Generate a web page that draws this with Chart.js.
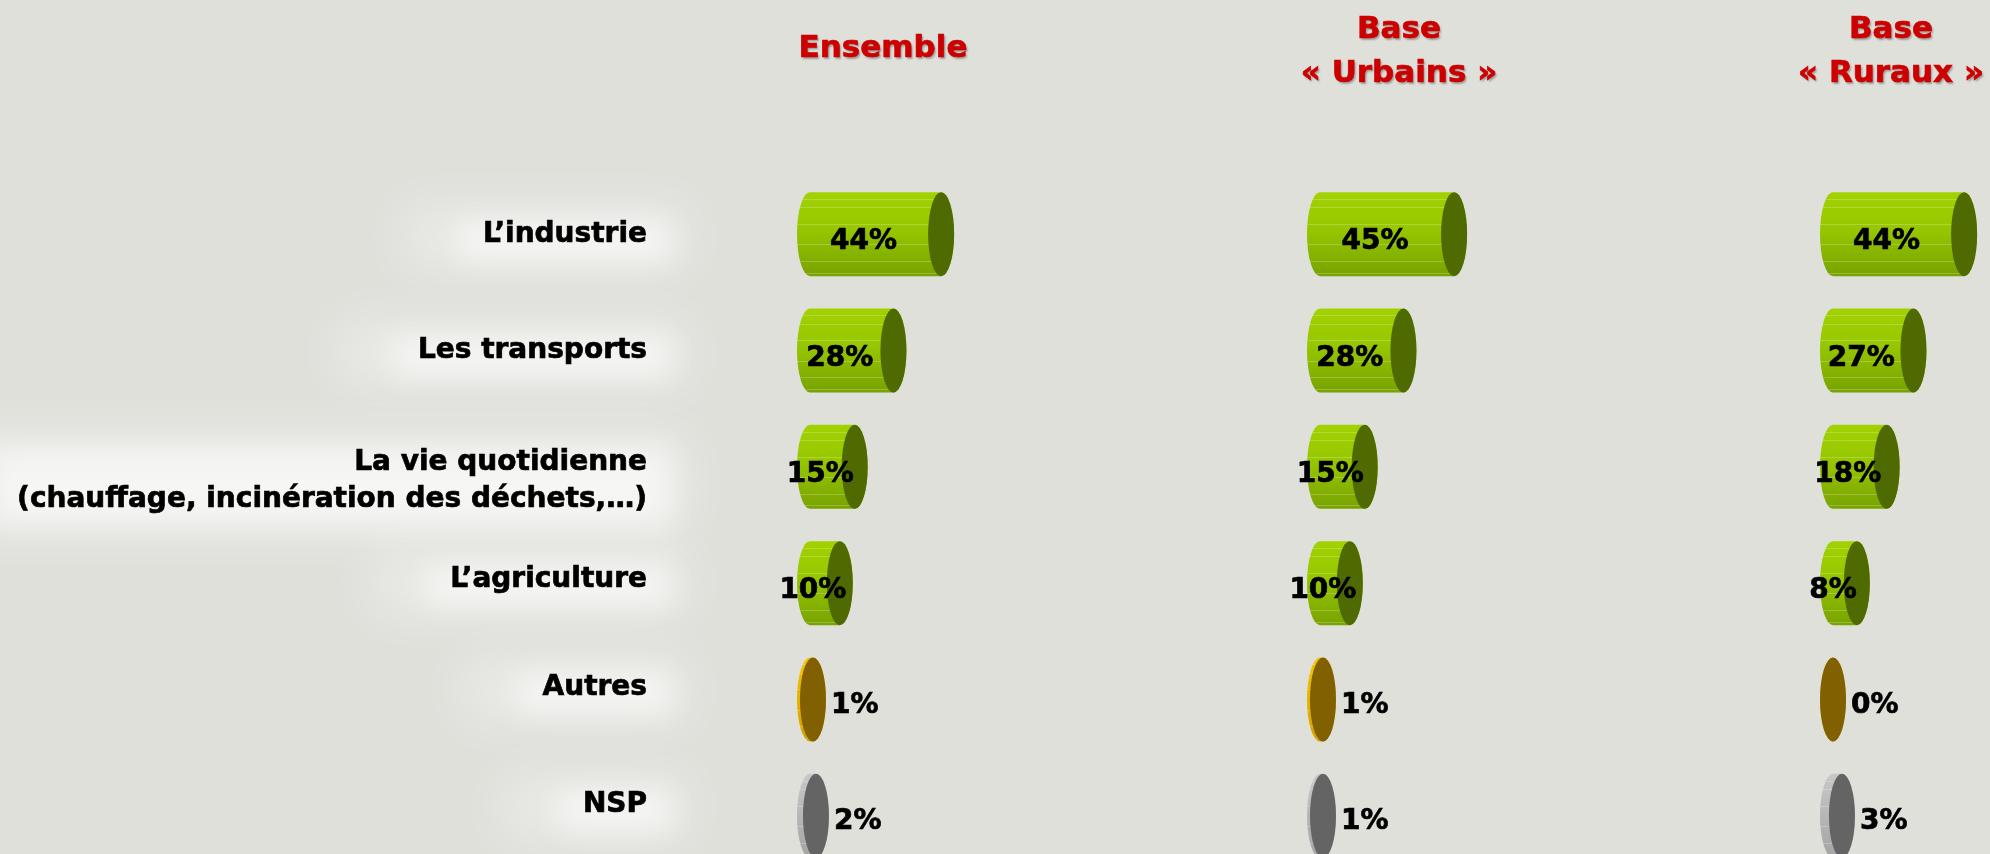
<!DOCTYPE html>
<html>
<head>
<meta charset="utf-8">
<script src="https://cdn.jsdelivr.net/npm/chart.js@4.4.1/dist/chart.umd.min.js"></script>
<style>
    html, body { margin: 0; padding: 0; background: #dfe0da; overflow: hidden; }
    #wrap { position: relative; width: 1990px; height: 854px; overflow: hidden; }
</style>
</head>
<body>
<div id="wrap"><canvas id="chart" width="1990" height="900"></canvas></div>
<script>
// data
const categories = [
    "L’industrie",
    "Les transports",
    ["La vie quotidienne", "(chauffage, incinération des déchets,…)"],
    "L’agriculture",
    "Autres",
    "NSP",
];
const columnTitles = [["Ensemble"], ["Base", "« Urbains »"], ["Base", "« Ruraux »"]];
const ensembleValues = [44, 28, 15, 10, 1, 2];
const urbainsValues = [45, 28, 15, 10, 1, 1];
const rurauxValues = [44, 27, 18, 8, 0, 3];

// layout
const fontFamily = "'DejaVu Sans', Verdana, sans-serif";
const labelRight = 647;                   // right edge of the row labels = left of chart area
const areaRight = 1990;
const pxPerPct = 2.98;
const columnZero = [810, 1320, 1833];     // pixel of 0% in each column
const titleCenter = [883, 1399, 1891];
const labelShift = [1, 0, 14, -3, -12, -11]; // row labels sit a little off the bar centres
const labelLineHeight = 37;
const capRx = 13;

// cylinder colours per row
const greenStyle = {body: ["#a2d200", "#96c600", "#78a200"], cap: "#4e6a00"};
const rowStyles = [
    greenStyle, greenStyle, greenStyle, greenStyle,
    {body: ["#f2c400", "#e6b400", "#d0a000"], cap: "#806000"},
    {body: ["#c8c8c8", "#b8b8b8", "#a4a4a4"], cap: "#646464"},
];

let axisFor = (zeroPx)=>{
    let min = -(zeroPx - labelRight) / pxPerPct;
    return {type: "linear", display: false, min: min, max: min + (areaRight - labelRight) / pxPerPct};
};

let boldText = (ctx, text, x, y)=>{
    ctx.fillText(text, x, y);
    ctx.strokeText(text, x, y);
};

let drawCylinder = (ctx, x0, x1, cy, h, style)=>{
    let ry = h / 2;
    ctx.save();
    ctx.beginPath();
    ctx.ellipse(x1, cy, capRx, ry, 0, -Math.PI / 2, Math.PI / 2);
    ctx.ellipse(x0, cy, capRx, ry, 0, Math.PI / 2, Math.PI * 1.5);
    ctx.closePath();
    let grad = ctx.createLinearGradient(0, cy - ry, 0, cy + ry);
    grad.addColorStop(0, style.body[0]);
    grad.addColorStop(0.45, style.body[1]);
    grad.addColorStop(1, style.body[2]);
    ctx.fillStyle = grad;
    ctx.fill();
    // facet lines
    ctx.clip();
    ctx.strokeStyle = "rgba(255,255,255,0.22)";
    ctx.lineWidth = 1;
    [0.08, 0.18, 0.38, 0.62, 0.82, 0.96].forEach((f)=>{
        let y = Math.round(cy - ry + f * h) + 0.5;
        ctx.beginPath();
        ctx.moveTo(x0 - capRx, y);
        ctx.lineTo(x1, y);
        ctx.stroke();
    });
    ctx.restore();
    // end cap
    ctx.beginPath();
    ctx.ellipse(x1, cy, capRx, ry, 0, 0, Math.PI * 2);
    ctx.fillStyle = style.cap;
    ctx.fill();
};

const cylinderPlugin = {
    id: "cylinders",
    beforeDraw: (chart)=>{
        let ctx = chart.ctx;
        ctx.save();
        ctx.fillStyle = "#dfe0da";
        ctx.fillRect(0, 0, chart.width, chart.height);
        // row labels on a soft white glow, placed from the category scale
        let yScale = chart.scales.y;
        ctx.font = `bold 28px ${fontFamily}`;
        categories.forEach((label, i)=>{
            let lines = Array.isArray(label) ? label : [label];
            let w = Math.max(...lines.map((t)=>ctx.measureText(t).width));
            let cy = yScale.getPixelForTick(i) + labelShift[i];
            let hh = lines.length * labelLineHeight / 2;
            ctx.filter = "blur(24px)";
            ctx.fillStyle = "rgba(255,255,255,0.35)";
            ctx.fillRect(labelRight - w - 80, cy - hh - 12, w + 120, hh * 2 + 28);
            ctx.filter = "blur(14px)";
            ctx.fillStyle = "rgba(255,255,255,0.55)";
            ctx.fillRect(labelRight - w - 25, cy - hh + 4, w + 50, hh * 2 + 4);
        });
        ctx.filter = "none";
        ctx.fillStyle = "#000";
        ctx.strokeStyle = "#000";
        ctx.lineWidth = 0.7;
        ctx.textAlign = "right";
        ctx.textBaseline = "middle";
        categories.forEach((label, i)=>{
            let lines = Array.isArray(label) ? label : [label];
            let cy = yScale.getPixelForTick(i) + labelShift[i];
            let y0 = cy - (lines.length - 1) * labelLineHeight / 2;
            lines.forEach((t, li)=>boldText(ctx, t, labelRight, y0 + li * labelLineHeight));
        });
        ctx.restore();
    },
    beforeDatasetDraw: (chart, args)=>{
        let ctx = chart.ctx;
        let meta = args.meta;
        meta.data.forEach((el, i)=>{
            let p = el.getProps(["x", "y", "base", "height"], true);
            drawCylinder(ctx, p.base, p.x, p.y, p.height, rowStyles[i]);
        });
        return false;
    },
    afterDatasetsDraw: (chart)=>{
        let ctx = chart.ctx;
        ctx.save();
        ctx.font = `bold 28px ${fontFamily}`;
        ctx.fillStyle = "#000";
        ctx.strokeStyle = "#000";
        ctx.lineWidth = 0.7;
        ctx.textBaseline = "middle";
        chart.data.datasets.forEach((ds, di)=>{
            let meta = chart.getDatasetMeta(di);
            meta.data.forEach((el, i)=>{
                let p = el.getProps(["x", "y", "base"], true);
                let v = ds.data[i];
                if(v >= 5){
                    ctx.textAlign = "center";
                    boldText(ctx, v + "%", (p.base + p.x) / 2 - 12, p.y + 8);
                }else{
                    ctx.textAlign = "left";
                    boldText(ctx, v + "%", p.x + 18, p.y + 6);
                }
            });
        });
        // column titles
        ctx.font = `bold 31px ${fontFamily}`;
        ctx.textAlign = "center";
        ctx.textBaseline = "alphabetic";
        ctx.fillStyle = "#cc0000";
        ctx.strokeStyle = "#cc0000";
        ctx.shadowColor = "rgba(0,0,0,0.3)";
        ctx.shadowOffsetX = 1.5;
        ctx.shadowOffsetY = 1.5;
        ctx.shadowBlur = 2;
        columnTitles.forEach((lines, ci)=>{
            let baselines = lines.length === 1 ? [57] : [38, 82];
            lines.forEach((t, li)=>ctx.fillText(t, titleCenter[ci], baselines[li]));
        });
        ctx.shadowColor = "rgba(0,0,0,0)";
        columnTitles.forEach((lines, ci)=>{
            let baselines = lines.length === 1 ? [57] : [38, 82];
            lines.forEach((t, li)=>ctx.strokeText(t, titleCenter[ci], baselines[li]));
        });
        ctx.restore();
    },
};

let makeDataset = (label, values, axisId)=>({
    label: label,
    data: values,
    xAxisID: axisId,
    backgroundColor: "rgba(0,0,0,0)",
    borderWidth: 0,
    grouped: false,
    barThickness: 84,
});

new Chart(document.getElementById("chart"), {
    type: "bar",
    data: {
        labels: categories,
        datasets: [
            makeDataset("Ensemble", ensembleValues, "xE"),
            makeDataset("Base « Urbains »", urbainsValues, "xU"),
            makeDataset("Base « Ruraux »", rurauxValues, "xR"),
        ],
    },
    options: {
        indexAxis: "y",
        responsive: false,
        animation: false,
        layout: {
            padding: {top: 176, bottom: 26, left: 0, right: 0},
        },
        plugins: {
            legend: {display: false},
            tooltip: {enabled: false},
        },
        scales: {
            xE: axisFor(columnZero[0]),
            xU: axisFor(columnZero[1]),
            xR: axisFor(columnZero[2]),
            y: {
                type: "category",
                position: "left",
                afterFit: (scale)=>{ scale.width = labelRight; },
                grid: {display: false, drawTicks: false},
                border: {display: false},
                ticks: {display: false},
            },
        },
    },
    plugins: [cylinderPlugin],
});
</script>
</body>
</html>
